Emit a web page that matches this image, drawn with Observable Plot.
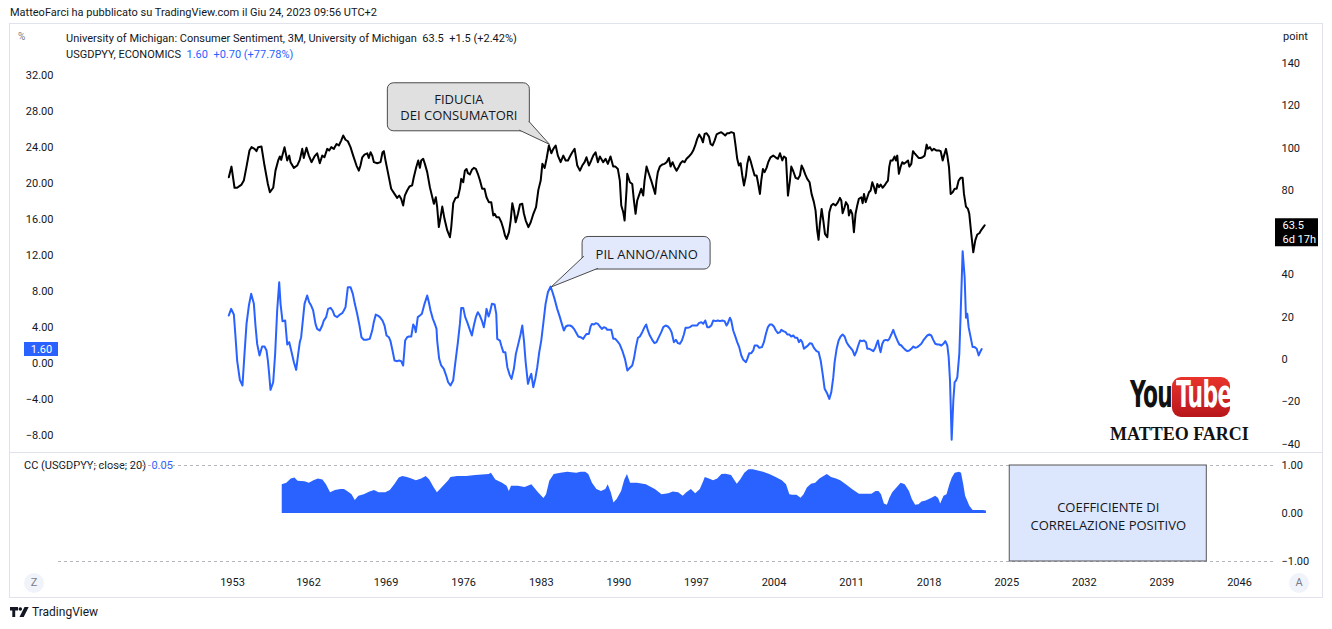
<!DOCTYPE html>
<html><head><meta charset="utf-8">
<script src="https://cdn.jsdelivr.net/npm/d3@7"></script>
<script src="https://cdn.jsdelivr.net/npm/@observablehq/plot@0.6"></script>
<style>
html,body{margin:0;padding:0;background:#fff;}
#page{position:relative;width:1332px;height:629px;overflow:hidden;font-family:Roboto,"Noto Sans",sans-serif;color:#131722;}
.abs{position:absolute;white-space:nowrap;}
.circ{width:20px;height:20px;border-radius:50%;background:#f0f3fa;color:#787b86;font-size:11px;text-align:center;line-height:20px;}
.yt{font:bold 38px 'Liberation Sans Narrow','DejaVu Sans Condensed',sans-serif;transform:scaleX(0.64);transform-origin:left top;letter-spacing:-1px;}
</style></head><body><div id="page">
<div class="abs" style="left:10px;top:6px;font-size:11px;color:#131722">MatteoFarci ha pubblicato su TradingView.com il Giu 24, 2023 09:56 UTC+2</div>
<div class="abs" style="left:9px;top:23px;width:1312px;height:573px;border:1px solid #e0e3eb"></div>
<div class="abs" style="left:10px;top:452px;width:1312px;height:1px;background:#e0e3eb"></div>
<div class="abs" style="left:18px;top:31px;font-size:10px;color:#787b86">%</div>
<div class="abs" style="left:66px;top:32px;font-size:11px">University of Michigan: Consumer Sentiment, 3M, University of Michigan&nbsp;&nbsp;63.5&nbsp;&nbsp;+1.5 (+2.42%)</div>
<div class="abs" style="left:66px;top:48px;font-size:11px">USGDPYY, ECONOMICS&nbsp;&nbsp;<span style="color:#2962ff">1.60&nbsp;&nbsp;+0.70 (+77.78%)</span></div>
<div class="abs" style="left:1283px;top:30px;font-size:11px;color:#131722">point</div>
<div class="abs" style="left:24px;top:459px;font-size:11px">CC (USGDPYY; close; 20)&nbsp;&nbsp;<span style="color:#2962ff">0.05</span></div>
<div class="abs circ" style="left:24px;top:573px">Z</div>
<div class="abs circ" style="left:1289px;top:573px">A</div>
<div class="abs" style="left:10px;top:605px;font-size:12px;color:#131722;display:flex;align-items:center;gap:3px">
<svg width="19" height="11" viewBox="0 0 19 11"><path d="M0 0h8v3.5H5.2V10H2.3V3.5H0z" fill="#131722"/><circle cx="10.3" cy="2" r="1.8" fill="#131722"/><path d="M14.5 0h4.2l-5 10H9.5z" fill="#131722"/></svg><span>TradingView</span></div>
<div class="abs yt" style="left:1130px;top:372px;color:#111">You</div>
<div class="abs" style="left:1172px;top:377px;width:58px;height:40px;border-radius:9px;background:linear-gradient(#e8342c,#b8161b)"></div>
<div class="abs yt" style="left:1176px;top:372px;color:#fff">Tube</div>
<div class="abs" style="left:1110px;top:424px;font:bold 18px 'Liberation Serif',serif;color:#111">MATTEO FARCI</div>
</div>
<script>
// ---- Data ----
const sentiment = [[1952.56,86.2],[1952.88,91.2],[1953.24,81.2],[1953.55,81.2],[1954.07,82.7],[1954.34,84.6],[1954.66,91.2],[1955.01,98.8],[1955.25,100.4],[1955.61,99.6],[1955.84,98.5],[1956.04,100.4],[1956.43,100.7],[1956.79,91.7],[1957.19,83.0],[1957.43,79.1],[1957.82,81.2],[1958.09,89.3],[1958.41,94.1],[1958.61,96.0],[1958.77,94.4],[1959.16,100.4],[1959.48,94.1],[1959.72,96.4],[1959.87,93.3],[1960.27,90.6],[1960.66,91.7],[1960.97,94.4],[1961.26,99.6],[1961.44,95.3],[1961.76,100.1],[1962.03,96.4],[1962.27,93.3],[1962.54,96.0],[1962.78,97.5],[1963.02,92.8],[1963.24,96.4],[1963.44,95.6],[1963.69,99.6],[1963.87,98.8],[1964.05,100.4],[1964.29,99.6],[1964.53,101.9],[1964.74,101.2],[1964.95,103.5],[1965.13,105.9],[1965.34,103.9],[1965.55,103.2],[1965.79,100.4],[1966.03,96.4],[1966.33,91.7],[1966.54,89.3],[1966.69,91.7],[1966.85,95.6],[1967.05,96.9],[1967.30,97.5],[1967.44,95.3],[1967.60,98.0],[1967.75,96.4],[1967.90,93.3],[1968.20,92.8],[1968.50,93.3],[1968.68,98.0],[1968.80,98.5],[1968.95,94.1],[1969.16,88.6],[1969.46,80.7],[1969.76,78.3],[1970.00,76.4],[1970.18,77.5],[1970.36,76.0],[1970.54,72.8],[1970.69,77.5],[1970.90,79.9],[1971.11,81.8],[1971.35,82.3],[1971.50,86.2],[1971.72,90.9],[1971.90,94.1],[1972.05,90.6],[1972.17,94.1],[1972.35,94.9],[1972.50,92.5],[1972.71,88.6],[1972.95,81.5],[1973.17,76.7],[1973.31,73.6],[1973.49,76.7],[1973.61,72.0],[1973.76,62.6],[1973.92,67.3],[1974.07,72.3],[1974.27,66.5],[1974.52,61.0],[1974.76,57.8],[1974.88,62.6],[1975.06,73.9],[1975.27,76.4],[1975.48,76.7],[1975.66,80.7],[1975.78,85.4],[1975.96,83.8],[1976.11,89.3],[1976.26,90.1],[1976.38,88.1],[1976.56,87.5],[1976.74,89.7],[1976.92,90.6],[1977.10,90.1],[1977.28,87.8],[1977.46,84.9],[1977.67,80.7],[1977.88,80.7],[1978.06,76.7],[1978.27,74.4],[1978.49,74.4],[1978.67,68.1],[1978.79,68.9],[1978.97,67.3],[1979.18,67.3],[1979.40,64.9],[1979.58,61.8],[1979.73,58.6],[1979.88,57.0],[1980.09,60.2],[1980.24,65.7],[1980.39,73.9],[1980.54,70.4],[1980.69,64.9],[1980.90,68.9],[1981.08,73.3],[1981.29,73.6],[1981.44,68.9],[1981.60,65.7],[1981.84,62.6],[1982.05,64.9],[1982.29,68.9],[1982.53,72.0],[1982.74,80.2],[1982.95,84.6],[1983.10,92.5],[1983.31,90.6],[1983.48,94.9],[1983.69,101.2],[1983.91,97.5],[1984.09,99.6],[1984.30,101.2],[1984.50,96.4],[1984.75,93.3],[1984.99,96.4],[1985.20,94.1],[1985.41,94.1],[1985.59,96.0],[1985.80,98.0],[1986.01,99.6],[1986.25,91.7],[1986.49,89.3],[1986.70,91.7],[1986.91,93.3],[1987.08,95.6],[1987.30,91.7],[1987.51,94.1],[1987.69,96.4],[1987.90,98.0],[1988.11,93.3],[1988.29,96.0],[1988.59,93.3],[1988.80,94.9],[1989.01,92.5],[1989.25,96.0],[1989.49,91.2],[1989.70,91.2],[1989.91,90.1],[1990.09,84.6],[1990.22,72.8],[1990.40,69.6],[1990.52,65.7],[1990.70,80.7],[1990.76,87.8],[1991.00,83.8],[1991.21,83.0],[1991.36,75.2],[1991.51,68.9],[1991.66,75.2],[1991.81,77.5],[1992.02,80.7],[1992.20,77.5],[1992.32,84.6],[1992.50,91.2],[1992.71,87.8],[1992.92,84.6],[1993.10,81.5],[1993.28,78.3],[1993.40,84.6],[1993.52,88.6],[1993.70,91.2],[1993.92,92.2],[1994.13,92.5],[1994.31,93.3],[1994.52,95.3],[1994.67,91.2],[1994.85,93.3],[1995.03,90.9],[1995.21,89.3],[1995.39,90.9],[1995.57,92.8],[1995.75,93.8],[1995.93,93.3],[1996.11,94.9],[1996.32,96.0],[1996.53,97.2],[1996.71,98.8],[1996.89,101.2],[1997.07,104.3],[1997.25,106.4],[1997.44,104.8],[1997.59,102.7],[1997.74,106.7],[1997.92,107.0],[1998.13,105.4],[1998.28,101.9],[1998.46,101.2],[1998.64,103.5],[1998.82,106.4],[1999.03,107.0],[1999.24,107.5],[1999.42,106.7],[1999.60,105.9],[1999.78,107.0],[1999.96,107.0],[2000.14,107.5],[2000.38,107.0],[2000.53,101.2],[2000.68,94.9],[2000.83,91.7],[2000.99,92.8],[2001.14,87.0],[2001.29,82.3],[2001.47,87.0],[2001.59,92.5],[2001.74,96.0],[2001.89,93.8],[2002.04,90.9],[2002.25,87.0],[2002.43,87.0],[2002.55,83.8],[2002.73,78.3],[2002.85,84.6],[2003.00,90.1],[2003.15,88.6],[2003.33,90.6],[2003.48,93.3],[2003.69,95.6],[2003.93,96.4],[2004.14,95.6],[2004.35,94.9],[2004.54,97.5],[2004.75,94.1],[2004.90,96.0],[2005.08,95.3],[2005.26,77.5],[2005.44,84.6],[2005.56,91.2],[2005.74,89.0],[2005.95,85.9],[2006.16,85.4],[2006.34,87.0],[2006.49,91.7],[2006.64,90.1],[2006.82,87.5],[2007.00,85.4],[2007.21,83.8],[2007.39,78.3],[2007.60,74.4],[2007.75,70.4],[2007.90,61.0],[2008.02,56.6],[2008.14,64.1],[2008.30,71.2],[2008.45,65.7],[2008.60,59.4],[2008.81,57.8],[2008.99,69.6],[2009.17,72.8],[2009.35,73.6],[2009.56,72.8],[2009.77,74.4],[2009.95,76.4],[2010.07,75.2],[2010.19,69.2],[2010.37,72.0],[2010.49,74.4],[2010.67,72.8],[2010.76,68.1],[2010.91,70.7],[2011.06,68.9],[2011.21,60.2],[2011.36,68.9],[2011.51,72.8],[2011.66,76.0],[2011.88,76.7],[2012.00,73.9],[2012.12,78.3],[2012.27,74.4],[2012.42,76.7],[2012.57,79.1],[2012.72,79.9],[2012.87,83.8],[2013.02,81.5],[2013.17,78.6],[2013.32,83.0],[2013.47,81.5],[2013.62,82.7],[2013.80,81.2],[2013.98,82.3],[2014.16,83.8],[2014.28,84.6],[2014.40,91.2],[2014.52,94.1],[2014.70,94.1],[2014.88,96.0],[2015.00,94.1],[2015.12,96.4],[2015.27,87.8],[2015.43,91.2],[2015.58,93.3],[2015.73,92.5],[2015.91,93.3],[2016.09,94.1],[2016.21,91.2],[2016.39,92.5],[2016.54,98.5],[2016.69,97.5],[2016.87,96.4],[2017.05,95.3],[2017.23,95.3],[2017.41,95.6],[2017.59,96.4],[2017.77,101.6],[2017.89,99.6],[2018.07,100.4],[2018.25,98.8],[2018.43,99.6],[2018.67,98.8],[2018.88,98.8],[2019.04,98.5],[2019.22,94.1],[2019.34,96.4],[2019.52,99.6],[2019.64,96.4],[2019.79,90.9],[2019.94,78.3],[2020.12,79.1],[2020.30,80.7],[2020.48,80.7],[2020.66,84.6],[2020.84,85.9],[2021.02,85.9],[2021.14,78.3],[2021.32,72.3],[2021.50,71.2],[2021.62,68.9],[2021.80,59.4],[2021.98,50.7],[2022.16,56.3],[2022.34,59.1],[2022.53,59.7],[2022.71,61.3],[2022.89,62.6],[2023.01,63.5]];

const gdpYoY = [[1952.56,5.33],[1952.84,6.07],[1953.16,5.44],[1953.36,2.92],[1953.55,0.33],[1953.87,-1.82],[1954.18,-2.45],[1954.42,1.07],[1954.66,4.40],[1954.94,6.44],[1955.21,7.74],[1955.53,6.63],[1955.72,4.22],[1955.92,2.18],[1956.20,0.89],[1956.51,1.89],[1956.79,1.89],[1957.03,1.44],[1957.19,0.33],[1957.34,-1.15],[1957.50,-2.93],[1957.82,-2.08],[1958.05,1.07],[1958.29,5.89],[1958.53,9.03],[1958.69,6.63],[1958.92,4.70],[1959.24,4.77],[1959.48,2.11],[1959.72,2.37],[1959.95,1.44],[1960.27,0.14],[1960.54,-0.71],[1960.78,1.07],[1960.97,2.37],[1961.13,2.92],[1961.37,5.15],[1961.53,6.63],[1961.84,7.55],[1962.06,6.81],[1962.24,6.44],[1962.42,5.89],[1962.63,4.40],[1962.78,3.85],[1963.02,3.66],[1963.24,4.22],[1963.38,4.77],[1963.59,5.15],[1963.77,6.07],[1963.99,6.18],[1964.17,5.89],[1964.35,5.33],[1964.59,5.15],[1964.83,5.44],[1965.04,5.59],[1965.19,5.89],[1965.34,6.26],[1965.55,8.48],[1965.79,8.48],[1966.00,7.74],[1966.18,6.63],[1966.39,5.52],[1966.60,4.22],[1966.78,2.92],[1966.99,2.63],[1967.23,2.63],[1967.53,2.74],[1967.75,3.66],[1967.89,4.59],[1968.07,5.44],[1968.25,5.33],[1968.44,5.15],[1968.68,4.77],[1968.86,4.22],[1969.04,3.11],[1969.25,2.92],[1969.40,2.48],[1969.58,1.44],[1969.76,0.33],[1970.00,0.26],[1970.18,0.33],[1970.36,0.26],[1970.54,-0.22],[1970.72,2.55],[1970.90,2.92],[1971.05,3.00],[1971.27,3.00],[1971.45,4.33],[1971.59,4.03],[1971.68,3.48],[1971.86,5.15],[1972.05,5.33],[1972.23,5.52],[1972.47,6.63],[1972.71,7.55],[1972.86,6.81],[1973.01,5.89],[1973.22,4.96],[1973.40,4.40],[1973.55,3.85],[1973.61,2.55],[1973.79,0.52],[1973.97,-0.22],[1974.21,-0.59],[1974.42,-1.34],[1974.60,-2.08],[1974.81,-2.45],[1975.05,-1.89],[1975.27,0.33],[1975.48,2.37],[1975.66,4.40],[1975.78,6.18],[1975.96,6.18],[1976.14,5.15],[1976.32,4.59],[1976.56,3.74],[1976.74,3.11],[1976.92,4.22],[1977.10,5.15],[1977.28,5.70],[1977.46,5.33],[1977.64,4.77],[1977.82,4.03],[1977.95,4.96],[1978.06,6.07],[1978.25,5.22],[1978.37,5.70],[1978.55,6.63],[1978.79,6.55],[1978.94,5.52],[1979.03,2.74],[1979.27,2.55],[1979.39,2.00],[1979.58,1.26],[1979.76,1.26],[1979.94,-0.41],[1980.14,-1.23],[1980.32,-1.71],[1980.53,-0.59],[1980.71,1.07],[1980.93,2.18],[1981.13,3.22],[1981.29,4.22],[1981.44,2.55],[1981.58,0.33],[1981.80,-2.26],[1981.98,-1.52],[1982.10,-1.15],[1982.28,-2.63],[1982.46,-1.71],[1982.64,-0.41],[1982.82,1.26],[1983.00,2.55],[1983.18,4.40],[1983.39,6.63],[1983.60,7.92],[1983.84,8.55],[1984.02,7.92],[1984.20,7.18],[1984.44,6.07],[1984.68,5.15],[1984.86,4.40],[1985.04,3.66],[1985.22,4.11],[1985.40,4.22],[1985.59,4.22],[1985.77,4.11],[1985.95,3.85],[1986.13,3.48],[1986.34,3.00],[1986.55,2.92],[1986.79,2.74],[1986.97,3.11],[1987.09,3.29],[1987.30,3.29],[1987.45,4.11],[1987.57,4.40],[1987.75,4.33],[1987.93,4.48],[1988.11,4.40],[1988.29,4.11],[1988.47,3.85],[1988.65,4.03],[1988.83,3.96],[1988.95,3.74],[1989.13,3.74],[1989.32,3.74],[1989.50,2.74],[1989.68,2.74],[1989.86,2.48],[1990.09,2.11],[1990.31,1.44],[1990.55,0.52],[1990.77,-0.78],[1990.91,-0.59],[1991.21,-0.22],[1991.36,0.52],[1991.54,1.82],[1991.72,2.85],[1991.90,3.00],[1992.11,3.48],[1992.32,4.04],[1992.47,4.34],[1992.62,3.67],[1992.80,3.11],[1993.01,2.63],[1993.22,2.26],[1993.40,2.37],[1993.61,2.93],[1993.83,3.48],[1994.01,4.04],[1994.22,4.22],[1994.43,4.11],[1994.61,3.85],[1994.76,3.48],[1994.97,2.37],[1995.15,2.63],[1995.33,2.26],[1995.51,2.19],[1995.69,2.56],[1995.87,3.22],[1996.02,3.96],[1996.23,3.96],[1996.41,4.04],[1996.62,4.22],[1996.83,4.22],[1997.07,4.22],[1997.22,4.48],[1997.44,4.59],[1997.62,4.41],[1997.80,4.78],[1997.98,4.04],[1998.16,4.04],[1998.34,4.22],[1998.52,4.78],[1998.73,4.71],[1998.94,4.78],[1999.12,4.71],[1999.33,4.78],[1999.54,4.71],[1999.72,4.22],[1999.84,4.48],[2000.02,5.08],[2000.14,4.78],[2000.32,3.67],[2000.53,2.93],[2000.68,2.37],[2000.86,1.82],[2001.05,0.89],[2001.23,0.41],[2001.47,0.15],[2001.59,0.52],[2001.77,1.15],[2001.95,1.15],[2002.13,1.45],[2002.25,2.00],[2002.49,2.00],[2002.67,1.74],[2002.91,1.82],[2003.09,2.37],[2003.27,3.30],[2003.45,4.04],[2003.63,4.34],[2003.81,4.34],[2003.99,4.11],[2004.17,3.67],[2004.35,3.37],[2004.54,3.48],[2004.66,3.74],[2004.84,3.59],[2005.05,3.48],[2005.20,3.22],[2005.38,3.22],[2005.56,3.00],[2005.74,3.11],[2005.92,2.85],[2006.10,2.85],[2006.25,2.37],[2006.40,2.63],[2006.55,2.37],[2006.70,1.63],[2006.88,1.82],[2007.06,2.00],[2007.24,2.26],[2007.42,2.19],[2007.60,1.74],[2007.84,1.37],[2008.03,1.26],[2008.21,0.34],[2008.39,-1.15],[2008.57,-2.81],[2008.81,-3.37],[2008.99,-3.93],[2009.17,-3.18],[2009.35,-1.52],[2009.47,0.15],[2009.65,1.63],[2009.83,2.56],[2010.01,3.00],[2010.19,3.22],[2010.37,3.00],[2010.55,2.37],[2010.73,2.00],[2010.91,1.74],[2011.09,1.45],[2011.27,0.89],[2011.45,1.37],[2011.57,1.89],[2011.76,2.56],[2011.94,2.48],[2012.12,2.56],[2012.30,2.37],[2012.42,1.63],[2012.60,1.63],[2012.78,1.52],[2012.96,1.37],[2013.14,1.74],[2013.26,2.19],[2013.38,2.56],[2013.50,1.82],[2013.62,1.26],[2013.77,2.19],[2013.92,2.56],[2014.10,2.63],[2014.28,2.56],[2014.40,2.74],[2014.58,3.22],[2014.76,3.74],[2014.94,3.11],[2015.13,2.56],[2015.31,2.11],[2015.49,2.00],[2015.67,1.74],[2015.85,1.52],[2016.03,1.37],[2016.21,1.45],[2016.39,1.63],[2016.57,1.89],[2016.75,1.74],[2016.93,1.82],[2017.11,2.00],[2017.29,2.19],[2017.47,2.56],[2017.65,2.85],[2017.83,3.11],[2018.01,3.22],[2018.19,3.11],[2018.37,2.63],[2018.55,2.19],[2018.74,2.11],[2018.92,2.11],[2019.10,2.00],[2019.28,2.19],[2019.46,2.48],[2019.64,2.00],[2019.76,0.71],[2019.88,-1.89],[2020.03,-8.48],[2020.18,-4.11],[2020.30,-2.07],[2020.42,-1.89],[2020.54,-1.52],[2020.72,1.08],[2020.84,5.52],[2021.02,12.48],[2021.20,9.59],[2021.32,5.08],[2021.44,5.52],[2021.56,4.04],[2021.74,2.93],[2021.92,1.82],[2022.10,1.82],[2022.29,1.63],[2022.47,0.89],[2022.59,1.26],[2022.74,1.60]];

const correlation = [[1958.89,0.60],[1959.43,0.63],[1959.96,0.72],[1960.39,0.74],[1960.77,0.67],[1961.57,0.66],[1962.08,0.63],[1962.49,0.68],[1962.89,0.72],[1963.30,0.70],[1963.62,0.60],[1963.99,0.43],[1964.43,0.48],[1964.92,0.50],[1965.24,0.50],[1965.53,0.46],[1965.93,0.39],[1966.22,0.27],[1966.54,0.36],[1967.03,0.39],[1967.55,0.45],[1967.96,0.48],[1968.36,0.43],[1968.97,0.43],[1969.38,0.48],[1969.78,0.60],[1970.19,0.74],[1970.51,0.77],[1970.92,0.75],[1971.32,0.72],[1971.73,0.68],[1972.21,0.72],[1972.62,0.77],[1972.94,0.70],[1973.35,0.53],[1973.63,0.43],[1974.04,0.53],[1974.65,0.68],[1974.85,0.75],[1975.46,0.77],[1976.27,0.77],[1977.08,0.79],[1978.30,0.81],[1978.50,0.84],[1978.90,0.70],[1979.51,0.63],[1979.92,0.57],[1980.12,0.46],[1980.32,0.57],[1980.93,0.57],[1981.54,0.54],[1982.15,0.60],[1982.75,0.43],[1983.24,0.31],[1983.48,0.39],[1983.77,0.67],[1984.17,0.81],[1984.78,0.84],[1985.39,0.86],[1986.20,0.84],[1986.60,0.86],[1987.01,0.86],[1987.29,0.81],[1987.62,0.63],[1988.02,0.50],[1988.43,0.46],[1988.83,0.50],[1989.04,0.60],[1989.32,0.43],[1989.56,0.22],[1989.85,0.29],[1990.25,0.46],[1990.54,0.70],[1990.78,0.81],[1991.06,0.63],[1991.67,0.63],[1992.48,0.60],[1993.29,0.50],[1993.90,0.39],[1994.51,0.41],[1994.91,0.45],[1995.40,0.43],[1995.81,0.36],[1996.13,0.43],[1996.54,0.50],[1996.94,0.41],[1997.35,0.50],[1997.67,0.67],[1997.80,0.75],[1998.17,0.72],[1998.55,0.68],[1998.92,0.72],[1999.30,0.81],[1999.68,0.82],[2000.17,0.79],[2000.43,0.70],[2000.69,0.61],[2000.99,0.70],[2001.37,0.84],[2001.74,0.91],[2002.12,0.91],[2002.50,0.89],[2003.06,0.86],[2003.62,0.81],[2004.19,0.75],[2004.75,0.68],[2005.13,0.60],[2005.43,0.39],[2005.69,0.38],[2006.07,0.38],[2006.44,0.32],[2006.71,0.39],[2007.01,0.53],[2007.38,0.61],[2007.76,0.63],[2008.14,0.72],[2008.51,0.77],[2008.81,0.81],[2009.19,0.75],[2009.64,0.72],[2010.02,0.68],[2010.58,0.59],[2011.14,0.49],[2011.71,0.40],[2012.27,0.40],[2012.83,0.40],[2013.21,0.46],[2013.47,0.46],[2013.70,0.39],[2013.96,0.20],[2014.23,0.17],[2014.45,0.31],[2014.71,0.43],[2015.09,0.53],[2015.47,0.63],[2015.84,0.60],[2016.22,0.46],[2016.48,0.29],[2016.78,0.17],[2017.08,0.18],[2017.35,0.24],[2017.72,0.26],[2018.21,0.31],[2018.59,0.36],[2018.85,0.31],[2019.04,0.20],[2019.34,0.36],[2019.61,0.39],[2019.87,0.60],[2020.09,0.74],[2020.35,0.84],[2020.73,0.86],[2020.92,0.84],[2021.11,0.61],[2021.29,0.36],[2021.67,0.15],[2021.97,0.06],[2022.42,0.06],[2022.87,0.06],[2023.17,0.05]];

const timeTicks = [1953,1962,1969,1976,1983,1990,1997,2004,2011,2018,2025,2032,2039,2046];
const gdpTicks = [-8,-4,0,4,8,12,16,20,24,28,32];
const sentTicks = [-40,-20,0,20,40,80,100,120,140];
const ccTicks = [-1,0,1];

// Annotations (in the data units of their pane)
const sentCallout = {text:"FIDUCIA\nDEI CONSUMATORI", x1:1969.16, x2:1981.97, y1:107.9, y2:130.6, tx:1975.57, ty:119.6,
  pointer:[[1981.04,108.4],[1983.75,101.7],[1981.90,112.5]]};
const gdpCallout = {text:"PIL ANNO/ANNO", x1:1986.73, x2:1998.28, y1:10.44, y2:14.06, tx:1992.51, ty:12.22,
  pointer:[[1986.82,11.89],[1983.89,8.5],[1988.08,10.56]]};
const ccNote = {text:"COEFFICIENTE DI\nCORRELAZIONE POSITIVO", x1:2025.27, x2:2043.05, y1:-1, y2:1, tx:2034.16, ty:-0.03};

// ---- Build ----
const W = 1332, H = 629;
const xScale = {type:"linear", domain:[1953,1962,2046], range:[232,308,1239]};
const toObj = arr => arr.map(([t,v]) => ({t, v}));
const sentData = toObj(sentiment), gdpData = toObj(gdpYoY), ccData = toObj(correlation);
const sentLast = sentData[sentData.length-1], gdpLast = gdpData[gdpData.length-1];
const minus = s => s.replace("-", "\u2212");
const fmt2 = d => minus(d.toFixed(2));
const fmt0 = d => minus(String(d));
const txtColor = "#131722";
const FONT = "Roboto, 'Noto Sans', sans-serif";
const NOTE_FONT = "'Open Sans', 'Noto Sans', sans-serif";

function calloutMarks(c, fill) {
  return [
    Plot.rect([c], {x1:"x1", x2:"x2", y1:"y1", y2:"y2", fill, stroke:"#4a4a4a", strokeWidth:1, rx:6}),
    Plot.line(c.pointer.map(([t,v]) => ({t,v})), {x:"t", y:"v", fill, stroke:"#4a4a4a", strokeWidth:1}),
    Plot.text([c], {x:"tx", y:"ty", text:"text", fontSize:13, lineHeight:1.25, fill:txtColor, fontFamily:NOTE_FONT})
  ];
}

function place(el) {
  Object.assign(el.style, {position:"absolute", left:"0px", top:"0px", width:W+"px", height:H+"px",
    background:"transparent", maxWidth:"none", overflow:"visible", fontFamily:FONT, fontSize:"11px"});
  document.getElementById("page").appendChild(el);
}

// Main pane, GDP YoY (left scale)
place(Plot.plot({
  width:W, height:H, margin:0,
  x:{...xScale, axis:null},
  y:{domain:[-8,32], range:[435,75]},
  marks:[
    Plot.axisY({anchor:"left", ticks:gdpTicks, tickFormat:fmt2, tickSize:0, tickPadding:0, dx:53, label:null, color:txtColor, fontSize:11}),
    Plot.line(gdpData, {x:"t", y:"v", stroke:"#2962ff", strokeWidth:2, strokeLinejoin:"round"}),
    Plot.ruleY([gdpLast], {y:"v", stroke:"#2962ff", strokeWidth:14, insetLeft:24, insetRight:W-58}),
    Plot.text([gdpLast], {y:"v", frameAnchor:"left", dx:41, textAnchor:"middle", text:d => fmt2(d.v), fill:"#fff", fontSize:11}),
    ...calloutMarks(gdpCallout, "#e3e9fc")
  ]
}));

// Main pane, Consumer Sentiment (right scale)
place(Plot.plot({
  width:W, height:H, margin:0,
  x:{...xScale, axis:null},
  y:{domain:[-40,140], range:[443.6,62.9]},
  marks:[
    Plot.axisY({anchor:"right", ticks:sentTicks, tickFormat:fmt0, tickSize:0, tickPadding:0, dx:-51, label:null, color:txtColor, fontSize:11}),
    Plot.line(sentData, {x:"t", y:"v", stroke:"#000", strokeWidth:2, strokeLinejoin:"round"}),
    Plot.ruleY([sentLast], {y:"v", dy:7, stroke:"#000", strokeWidth:28, insetLeft:1275, insetRight:W-1318}),
    Plot.text([sentLast], {y:"v", frameAnchor:"right", dx:-50, textAnchor:"start", text:d => d.v.toFixed(1), fill:"#fff", fontSize:11}),
    Plot.text([sentLast], {y:"v", frameAnchor:"right", dx:-50, dy:14, textAnchor:"start", text:() => "6d 17h", fill:"#fff", fontSize:11}),
    ...calloutMarks(sentCallout, "#e0e0e0")
  ]
}));

// Lower pane, correlation coefficient
place(Plot.plot({
  width:W, height:H, marginTop:0, marginLeft:0, marginRight:0, marginBottom:H-576,
  x:xScale,
  y:{domain:[-1,1], range:[561,465]},
  marks:[
    Plot.ruleY([1,-1], {stroke:"#b2b5be", strokeDasharray:"3,3", insetLeft:58, insetRight:W-1276}),
    Plot.areaY(ccData, {x:"t", y:"v", fill:"#2962ff"}),
    Plot.rect([ccNote], {x1:"x1", x2:"x2", y1:"y1", y2:"y2", fill:"#dce6fd", stroke:"#555", strokeWidth:1}),
    Plot.text([ccNote], {x:"tx", y:"ty", text:"text", fontSize:13, lineHeight:1.38, fill:txtColor, fontFamily:NOTE_FONT}),
    Plot.axisY({anchor:"right", ticks:ccTicks, tickFormat:fmt2, tickSize:0, tickPadding:0, dx:-51, label:null, color:txtColor, fontSize:11}),
    Plot.axisX({anchor:"bottom", ticks:timeTicks, tickFormat:d => String(d), tickSize:0, tickPadding:2, label:null, color:txtColor, fontSize:11})
  ]
}));
</script></body></html>
